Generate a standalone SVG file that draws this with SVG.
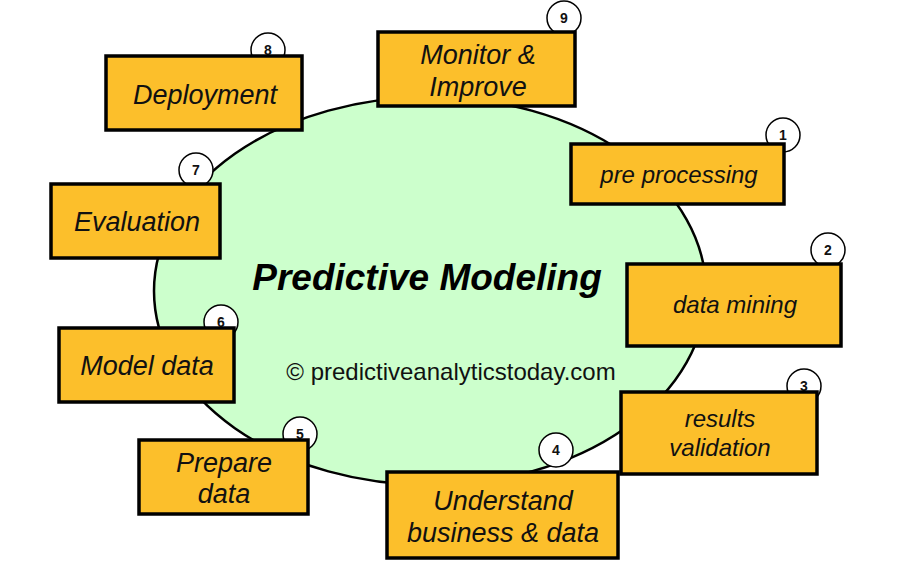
<svg xmlns="http://www.w3.org/2000/svg" width="915" height="572" viewBox="0 0 915 572">
<style>
.box{fill:#FCBF2B;stroke:#000;stroke-width:3.5}
.lbl{font-family:"Liberation Sans",Arial,sans-serif;font-style:italic;font-size:27px;fill:#111;text-anchor:middle}
.sm{font-size:24px}
.num{fill:#fff;stroke:#000;stroke-width:1.5}
.nt{font-family:"Liberation Sans",Arial,sans-serif;font-weight:bold;font-size:14px;fill:#111;text-anchor:middle}
</style>
<rect width="915" height="572" fill="#fff"/>
<g id="hub">
<ellipse cx="430" cy="291" rx="276" ry="194" fill="#CCFFCC" stroke="#000" stroke-width="2.5"/>
<text x="427" y="290" font-family="Liberation Sans,Arial,sans-serif" font-weight="bold" font-style="italic" font-size="37" fill="#000" text-anchor="middle">Predictive Modeling</text>
<text x="451" y="380" font-family="Liberation Sans,Arial,sans-serif" font-size="24" fill="#111" text-anchor="middle">© predictiveanalyticstoday.com</text>
</g>
<g id="connectors"></g>
<g id="n9"><circle class="num" cx="564" cy="18" r="17"/><text class="nt" x="564" y="23">9</text>
<rect class="box" x="378" y="32" width="197" height="74"/><text class="lbl" x="478" y="64">Monitor &amp;</text><text class="lbl" x="478" y="96">Improve</text></g>
<g id="n8"><circle class="num" cx="268" cy="50" r="17"/><text class="nt" x="268" y="55">8</text>
<rect class="box" x="106" y="56" width="196" height="74"/><text class="lbl" x="205" y="104">Deployment</text></g>
<g id="n1"><circle class="num" cx="783" cy="135" r="17"/><text class="nt" x="783" y="140">1</text>
<rect class="box" x="571" y="144" width="213" height="60"/><text class="lbl sm" x="679" y="183">pre processing</text></g>
<g id="n7"><circle class="num" cx="196" cy="170" r="17"/><text class="nt" x="196" y="175">7</text>
<rect class="box" x="51" y="184" width="169" height="74"/><text class="lbl" x="137" y="231">Evaluation</text></g>
<g id="n2"><circle class="num" cx="828" cy="250" r="17"/><text class="nt" x="828" y="255">2</text>
<rect class="box" x="627" y="264" width="214" height="82"/><text class="lbl sm" x="735" y="313">data mining</text></g>
<g id="n6"><circle class="num" cx="221" cy="322" r="17"/><text class="nt" x="221" y="327">6</text>
<rect class="box" x="59" y="328" width="175" height="74"/><text class="lbl" x="147" y="375">Model data</text></g>
<g id="n3"><circle class="num" cx="804" cy="386" r="17"/><text class="nt" x="804" y="391">3</text>
<rect class="box" x="621" y="392" width="196" height="82"/><text class="lbl sm" x="720" y="427">results</text><text class="lbl sm" x="720" y="456">validation</text></g>
<g id="n5"><circle class="num" cx="300" cy="434" r="17"/><text class="nt" x="300" y="439">5</text>
<rect class="box" x="139" y="440" width="169" height="74"/><text class="lbl" x="224" y="472">Prepare</text><text class="lbl" x="224" y="503">data</text></g>
<g id="n4"><circle class="num" cx="556" cy="450" r="17"/><text class="nt" x="556" y="455">4</text>
<rect class="box" x="387" y="472" width="231" height="86"/><text class="lbl" x="503" y="510">Understand</text><text class="lbl" x="503" y="542">business &amp; data</text></g>
</svg>
